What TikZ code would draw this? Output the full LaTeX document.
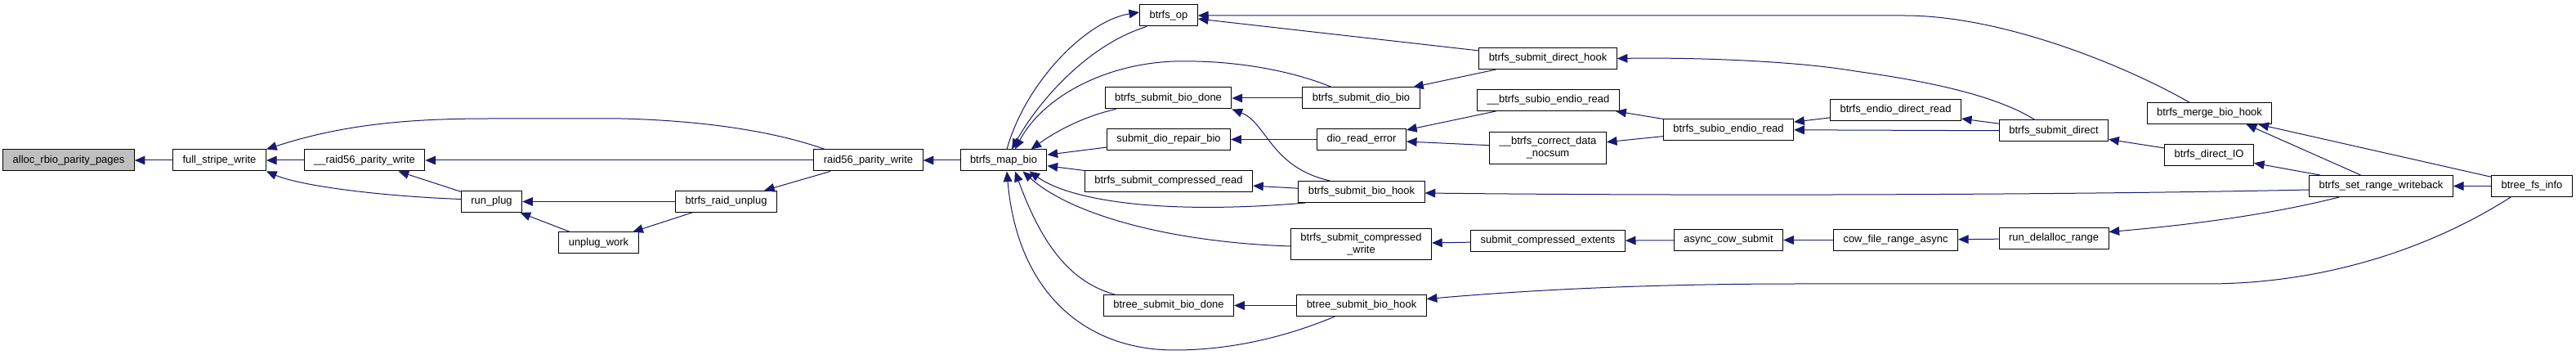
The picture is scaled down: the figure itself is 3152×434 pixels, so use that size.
\documentclass[tikz,border=0pt]{standalone}
\usepackage{fontspec}
\setmainfont{Liberation Sans}
\usepackage{tikz}
\usetikzlibrary{arrows.meta,calc}
\definecolor{edgeblue}{HTML}{191970}
\definecolor{rootgray}{HTML}{BFBFBF}
\tikzset{fn/.style={draw=black,fill=white,line width=0.75pt,align=center,font=\fontsize{9.7}{11.25}\selectfont,inner xsep=9pt,inner ysep=4.5pt,minimum height=19.5pt},root/.style={fn,fill=rootgray},call/.style={{Triangle[length=9.5pt,width=8pt]}-,draw=edgeblue,line width=0.75pt}}

\begin{document}
\begin{tikzpicture}[x=0.75pt,y=-0.75pt]
\path[use as bounding box,fill=white] (0,0) rectangle (3152,434);
\node[root] (arpp) at (84,196) {alloc\_rbio\_parity\_pages};
\node[fn] (fsw) at (268.5,196) {full\_stripe\_write};
\node[fn] (urpw) at (446,196) {\_\_raid56\_parity\_write};
\node[fn] (rplug) at (601.5,246.5) {run\_plug};
\node[fn] (uwork) at (732.5,297) {unplug\_work};
\node[fn] (bru) at (888.5,246.5) {btrfs\_raid\_unplug};
\node[fn] (rpw) at (1062.5,196) {raid56\_parity\_write};
\node[fn] (mapbio) at (1228,196) {btrfs\_map\_bio};
\node[fn] (op) at (1430,19) {btrfs\_op};
\node[fn] (sbd) at (1429.5,120) {btrfs\_submit\_bio\_done};
\node[fn] (sdrb) at (1430,170.5) {submit\_dio\_repair\_bio};
\node[fn] (sbcr) at (1430,221.5) {btrfs\_submit\_compressed\_read};
\node[fn] (btsbd) at (1430,373.5) {btree\_submit\_bio\_done};
\node[fn] (sdb) at (1665.5,120) {btrfs\_submit\_dio\_bio};
\node[fn] (dre) at (1666,170.5) {dio\_read\_error};
\node[fn] (sbh) at (1666,234.5) {btrfs\_submit\_bio\_hook};
\node[fn] (sbcw) at (1665.5,298.5) {btrfs\_submit\_compressed\\\_write};
\node[fn] (btsbh) at (1666,373.5) {btree\_submit\_bio\_hook};
\node[fn] (sdh) at (1894,71.5) {btrfs\_submit\_direct\_hook};
\node[fn] (ubser) at (1894.5,122.5) {\_\_btrfs\_subio\_endio\_read};
\node[fn] (bcdn) at (1894,181) {\_\_btrfs\_correct\_data\\\_nocsum};
\node[fn] (sce) at (1894,294.5) {submit\_compressed\_extents};
\node[fn] (bser) at (2115,158.5) {btrfs\_subio\_endio\_read};
\node[fn] (acs) at (2115,293.5) {async\_cow\_submit};
\node[fn] (bedr) at (2319.5,134.5) {btrfs\_endio\_direct\_read};
\node[fn] (cfra) at (2319.5,293.5) {cow\_file\_range\_async};
\node[fn] (sd) at (2513,160) {btrfs\_submit\_direct};
\node[fn] (rdr) at (2513,291.5) {run\_delalloc\_range};
\node[fn] (mbh) at (2703.5,138.5) {btrfs\_merge\_bio\_hook};
\node[fn] (dio) at (2703,189.5) {btrfs\_direct\_IO};
\node[fn] (srw) at (2913.5,227.5) {btrfs\_set\_range\_writeback};
\node[fn] (bfi) at (3098,227.5) {btree\_fs\_info};
\draw[call] (arpp) -- (fsw);\draw[call] (fsw) -- (urpw);
\draw[call] (fsw.north east) .. controls (420,152) and (500,145) .. (600,145) -- (760,145) .. controls (880,148) and (960,165) .. ($(rpw.north west)+(14,0)$);
\draw[call] (fsw.south east) .. controls (370,228) and (470,240) .. ($(rplug.west)+(0,-3)$);
\draw[call] (urpw) -- (rpw);\draw[call] (urpw) -- (rplug);
\draw[call] (rplug) -- (bru);\draw[call] (rplug) -- (uwork);\draw[call] (uwork) -- (bru);
\draw[call] (bru) -- (rpw);\draw[call] (rpw) -- (mapbio);
\draw[call] ($(mapbio.north)+(10,0)$) .. controls (1270,125) and (1330,55) .. ($(op.south west)+(9,0)$);
\draw[call] ($(op.west)+(0,-4)$) .. controls (1330,25) and (1255,100) .. ($(mapbio.north)+(4,0)$);
\draw[call] ($(mapbio.north)+(14,0)$) .. controls (1275,120) and (1350,78) .. (1437,75) .. controls (1520,73) and (1590,90) .. ($(sdb.north west)+(36,0)$);
\draw[call] ($(mapbio.north east)+(-20,0)$) .. controls (1300,155) and (1335,140) .. ($(sbd.south west)+(14,0)$);
\draw[call] (mapbio) -- (sdrb);\draw[call] (mapbio) -- (sbcr);
\draw[call] ($(mapbio.south east)+(-22,0)$) .. controls (1310,245) and (1420,263) .. ($(sbh.south west)+(9,0)$);
\draw[call] ($(mapbio.south east)+(-30,0)$) .. controls (1310,262) and (1430,296) .. ($(sbcw.west)+(0,2.5)$);
\draw[call] ($(mapbio.south)+(14,0)$) .. controls (1275,300) and (1310,345) .. ($(btsbd.north west)+(14,0)$);
\draw[call] ($(mapbio.south)+(4,0)$) .. controls (1245,360) and (1330,428) .. (1437,428) .. controls (1520,428) and (1590,405) .. ($(btsbh.south west)+(47,0)$);
\draw[call] (op) -- (sdh);
\draw[call] (op.east) -- (2330,19) .. controls (2450,19) and (2600,80) .. ($(mbh.north west)+(52,0)$);
\draw[call] (sbd) -- (sdb);
\draw[call] (sbd.south east) .. controls (1550,150) and (1555,205) .. ($(sbh.north west)+(39,0)$);
\draw[call] (sdrb) -- (dre);\draw[call] (sbcr) -- (sbh);\draw[call] (btsbd) -- (btsbh);
\draw[call] (sdb) -- (sdh);\draw[call] (dre) -- (ubser);\draw[call] (dre) -- (bcdn);
\draw[call] ($(sbh.east)+(0,1.5)$) .. controls (2100,240) and (2550,238) .. ($(srw.west)+(0,4.5)$);
\draw[call] (sbcw) -- (sce);
\draw[call] ($(btsbh.east)+(0,-8)$) .. controls (1900,352) and (2050,347) .. (2200,347) -- (2700,347) .. controls (2850,347) and (2980,300) .. ($(bfi.south west)+(24,0)$);
\draw[call] (sdh.east) .. controls (2080,70) and (2200,75) .. (2270,87) .. controls (2350,98) and (2440,115) .. ($(sd.north west)+(44,0)$);
\draw[call] (ubser) -- (bser);\draw[call] (bcdn) -- (bser);\draw[call] (sce) -- (acs);
\draw[call] (bser) -- (bedr);\draw[call] (bser) -- (sd);\draw[call] (acs) -- (cfra);
\draw[call] (bedr) -- (sd);\draw[call] (cfra) -- (rdr);\draw[call] (sd) -- (dio);
\draw[call] ($(rdr.east)+(0,-8)$) .. controls (2680,275) and (2780,262) .. ($(srw.south west)+(37,0)$);
\draw[call] ($(mbh.south)+(45,0)$) -- ($(srw.north)+(-25,0)$);
\draw[call] (mbh) -- (bfi);\draw[call] (dio) -- (srw);\draw[call] (srw) -- (bfi);
\end{tikzpicture}
\end{document}
